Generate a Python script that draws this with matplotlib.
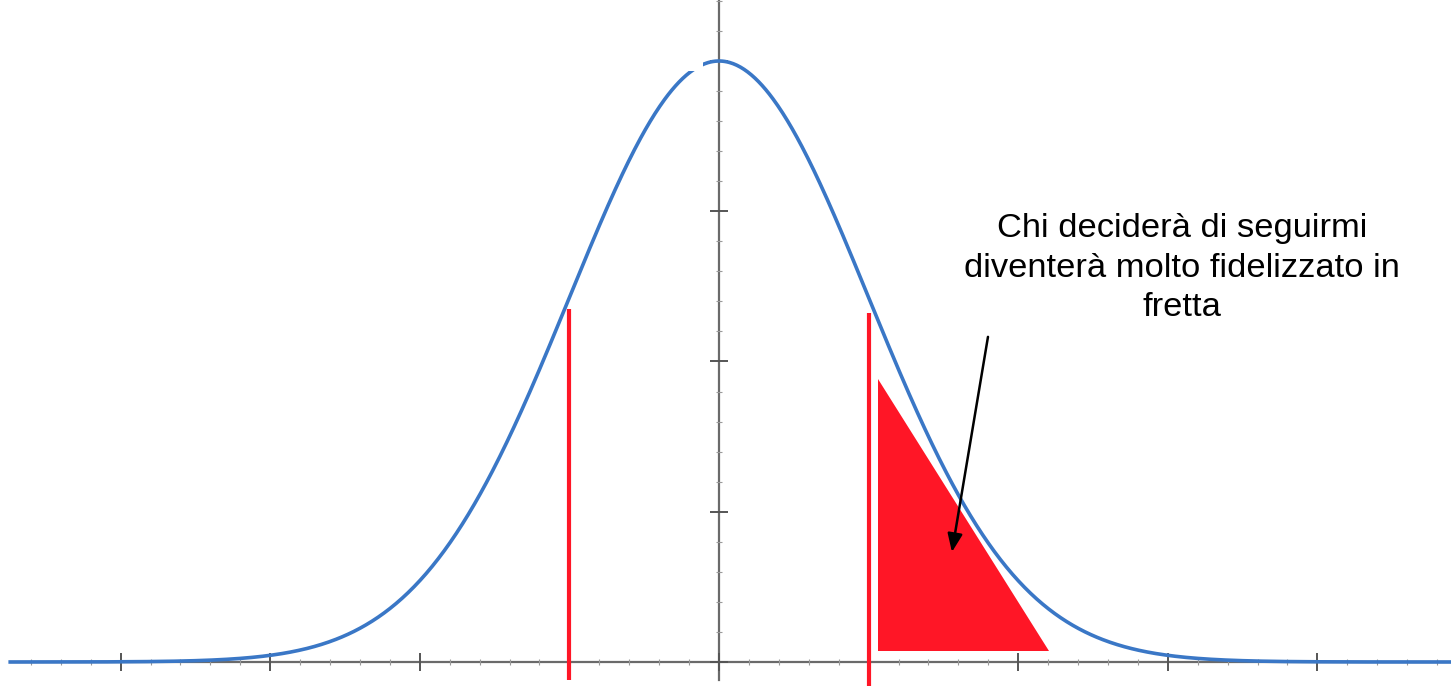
import numpy as np
import matplotlib
matplotlib.use("Agg")
import matplotlib.pyplot as plt
from matplotlib.ticker import MultipleLocator, FixedLocator, NullFormatter
from matplotlib.patches import Polygon, Rectangle

# ---- data ----
mu = 0.0
sigma = 1.0
peak = 1.0                      # curve height at the mean (relative units)
x_range = [-4.75, 4.9]          # extent of the curve, in sigma units
red_lines_x = [-1.0, 1.0]       # ±1 sigma markers
red_lines_top = [0.588, 0.580]
red_lines_bottom = [-0.030, -0.045]
triangle_x = [1.063, 1.063, 2.206]
triangle_y = [0.471, 0.018, 0.018]
arrow_start = (1.798, 0.541)
arrow_end = (1.557, 0.183)
label_lines = ["Chi deciderà di seguirmi",
               "diventerà molto fidelizzato in",
               "fretta"]
label_x = 3.095
label_baselines = [0.707, 0.641, 0.576]

W, H = 1451, 686
fig = plt.figure(figsize=(W / 100, H / 100), dpi=100)
ax = fig.add_axes([0, 0, 1, 1])

x0_px, unit_x = 719, 149.6
base_px, unit_y = 662, 601
ax.set_xlim(-x0_px / unit_x, (W - x0_px) / unit_x)
ax.set_ylim(-(H - base_px) / unit_y, base_px / unit_y)

# axes through origin
for s in ["top", "right"]:
    ax.spines[s].set_visible(False)
ax.spines["left"].set_position(("data", 0))
ax.spines["bottom"].set_position(("data", 0))
for s in ["left", "bottom"]:
    ax.spines[s].set_color("#6a6a6a")
    ax.spines[s].set_linewidth(1.6)
    ax.spines[s].set_zorder(1)
ax.spines["bottom"].set_bounds((11 - x0_px) / unit_x, (W - x0_px) / unit_x)
ax.spines["left"].set_bounds(-(680 - base_px) / unit_y, base_px / unit_y)

ax.xaxis.set_major_locator(MultipleLocator(1))
ax.xaxis.set_minor_locator(FixedLocator(np.arange(-4.6, 4.81, 0.2)))
ax.yaxis.set_major_locator(MultipleLocator(0.25))
ax.yaxis.set_minor_locator(MultipleLocator(0.05))
ax.xaxis.set_major_formatter(NullFormatter())
ax.yaxis.set_major_formatter(NullFormatter())
ax.tick_params(which="major", direction="inout", length=13, width=1.4,
               color="#555555")
ax.tick_params(which="minor", direction="inout", length=5, width=0.8,
               color="#9a9a9a")

# bell curve
xs = np.linspace(x_range[0], x_range[1], 1200)
ys = peak * np.exp(-0.5 * ((xs - mu) / sigma) ** 2)
ax.plot(xs, ys, color="#3a77c6", lw=2.6, zorder=3, solid_capstyle="butt",
        clip_on=False)

# white patch near the peak (as in the reference)
ax.add_patch(Rectangle(((660 - x0_px) / unit_x, (base_px - 71) / unit_y),
                       43 / unit_x, 26 / unit_y, facecolor="white",
                       edgecolor="none", zorder=4))

# red sigma lines
for xv, top, bot in zip(red_lines_x, red_lines_top, red_lines_bottom):
    ax.plot([xv, xv], [bot, top], color="#ff1626", lw=3.0, zorder=5,
            solid_capstyle="butt", clip_on=False)

# red triangle
ax.add_patch(Polygon(list(zip(triangle_x, triangle_y)), closed=True,
                     facecolor="#ff1626", edgecolor="none", zorder=5))

# arrow
ax.annotate("", xy=arrow_end, xytext=arrow_start,
            arrowprops=dict(arrowstyle="-|>,head_length=1.1,head_width=0.45",
                            color="black", lw=1.8, shrinkA=0, shrinkB=0),
            zorder=6)

for line, yb in zip(label_lines, label_baselines):
    ax.text(label_x, yb, line, ha="center", va="baseline",
            family=["Liberation Sans", "DejaVu Sans"], fontsize=24.8,
            color="black", zorder=7)

fig.savefig("out.png", dpi=100)
